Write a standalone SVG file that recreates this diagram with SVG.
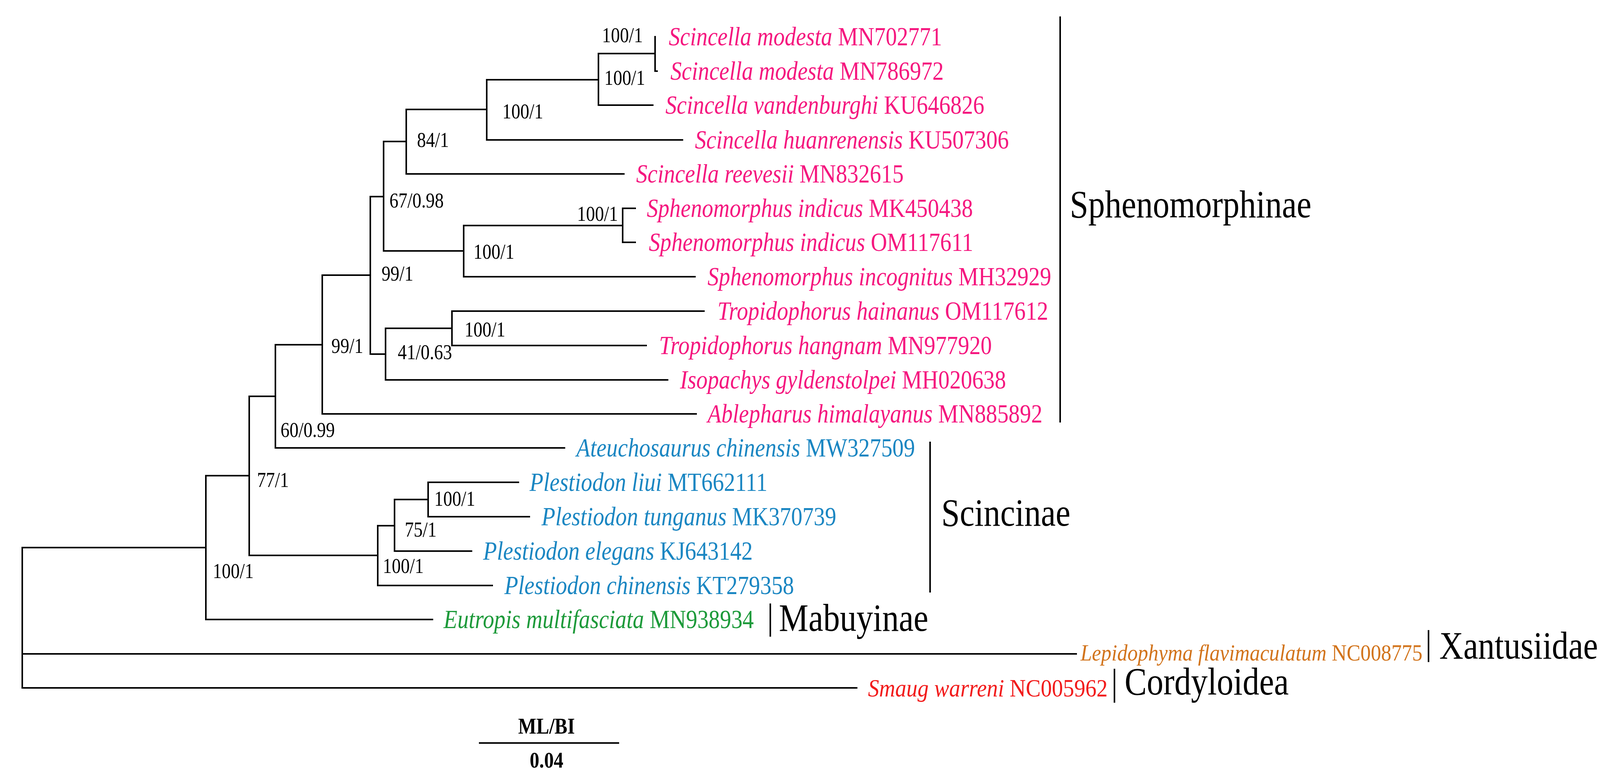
<svg xmlns="http://www.w3.org/2000/svg" width="4114" height="1988" viewBox="0 0 4114 1988">
<style>
.e{fill:none;stroke:#000;stroke-width:4;stroke-linecap:square}
text{font-family:"Liberation Serif","Times New Roman",serif}
.t{font-size:68px}
.s{font-size:54px;fill:#000}
.c{font-size:100px;fill:#000}
.pk{fill:#f5177f}.bl{fill:#1a86c2}.gr{fill:#1d9a3a}.or{fill:#d2741c}.rd{fill:#f21c1c}
.i{font-style:italic}
</style>
<rect width="4114" height="1988" fill="#fff"/>
<g id="connectors" class="e">
<path d="M1677 94V182M1677 182H1682M1532 137H1677M1532 137V269H1671M1246 204H1532M1246 204V358H1747M1040 280H1246M1040 280V445H1597M982 362H1040M982 362V642M1187 642H982M1187 577V708H1779M1594 533V620M1594 533H1626M1594 620H1626M1187 577H1594M948 503H982M948 503V906M987 906H948M987 840V972H1709M1157 840H987M1157 796V884M1157 796H1802M1157 884H1654M825 704H948M825 704V1059H1782M705 882H825M705 882V1146H1445M638 1014H705M638 1014V1421M967 1421H638M967 1345V1498H1260M1010 1345H967M1010 1278V1410H1207M1096 1278H1010M1096 1234V1322M1096 1234H1327M1096 1322H1355M527 1217H638M527 1217V1585H1107M57 1401H527M57 1401V1760H2193M57 1673H2755"/>
<path d="M2714 44V1079M2381 1132V1514M1972 1546V1627M3657 1614V1692M2853 1713V1796M1228 1901H1583"/>
</g>
<g id="tips" transform="scale(0.85,1)">
<text class="t pk" x="2014" y="116"><tspan class="i">Scincella modesta</tspan> MN702771</text>
<text class="t pk" x="2019" y="204"><tspan class="i">Scincella modesta</tspan> MN786972</text>
<text class="t pk" x="2004" y="291"><tspan class="i">Scincella vandenburghi</tspan> KU646826</text>
<text class="t pk" x="2093" y="380"><tspan class="i">Scincella huanrenensis</tspan> KU507306</text>
<text class="t pk" x="1916" y="467"><tspan class="i">Scincella reevesii</tspan> MN832615</text>
<text class="t pk" x="1948" y="555"><tspan class="i">Sphenomorphus indicus</tspan> MK450438</text>
<text class="t pk" x="1954" y="642"><tspan class="i">Sphenomorphus indicus</tspan> OM117611</text>
<text class="t pk" x="2131" y="730"><tspan class="i">Sphenomorphus incognitus</tspan> MH32929</text>
<text class="t pk" x="2161" y="818"><tspan class="i">Tropidophorus hainanus</tspan> OM117612</text>
<text class="t pk" x="1985" y="906"><tspan class="i">Tropidophorus hangnam</tspan> MN977920</text>
<text class="t pk" x="2048" y="994"><tspan class="i">Isopachys gyldenstolpei</tspan> MH020638</text>
<text class="t pk" x="2131" y="1081"><tspan class="i">Ablepharus himalayanus</tspan> MN885892</text>
<text class="t bl" x="1736" y="1168"><tspan class="i">Ateuchosaurus chinensis</tspan> MW327509</text>
<text class="t bl" x="1595" y="1256"><tspan class="i">Plestiodon liui</tspan> MT662111</text>
<text class="t bl" x="1631" y="1344"><tspan class="i">Plestiodon tunganus</tspan> MK370739</text>
<text class="t bl" x="1455" y="1432"><tspan class="i">Plestiodon elegans</tspan> KJ643142</text>
<text class="t bl" x="1519" y="1520"><tspan class="i">Plestiodon chinensis</tspan> KT279358</text>
<text class="t gr" x="1336" y="1607"><tspan class="i">Eutropis multifasciata</tspan> MN938934</text>
<text class="or" style="font-size:60px" x="3254" y="1690" textLength="1030" lengthAdjust="spacingAndGlyphs"><tspan class="i">Lepidophyma flavimaculatum</tspan> NC008775</text>
<text class="rd" style="font-size:64px" x="2614" y="1782" textLength="722" lengthAdjust="spacingAndGlyphs"><tspan class="i">Smaug warreni</tspan> NC005962</text>
</g>
<g id="clades" transform="scale(0.85,1)">
<text class="c" x="3222" y="556">Sphenomorphinae</text>
<text class="c" x="2835" y="1345">Scincinae</text>
<text class="c" x="2346" y="1614">Mabuyinae</text>
<text class="c" x="4335" y="1685">Xantusiidae</text>
<text class="c" x="3387" y="1777">Cordyloidea</text>
</g>
<g id="support" transform="scale(0.85,1)">
<text class="s" x="1813" y="108">100/1</text>
<text class="s" x="1820" y="217">100/1</text>
<text class="s" x="1513" y="303">100/1</text>
<text class="s" x="1256" y="376">84/1</text>
<text class="s" x="1173" y="531">67/0.98</text>
<text class="s" x="1738" y="565">100/1</text>
<text class="s" x="1426" y="662">100/1</text>
<text class="s" x="1149" y="718">99/1</text>
<text class="s" x="1399" y="861">100/1</text>
<text class="s" x="998" y="903">99/1</text>
<text class="s" x="1198" y="919">41/0.63</text>
<text class="s" x="845" y="1118">60/0.99</text>
<text class="s" x="774" y="1246">77/1</text>
<text class="s" x="1308" y="1294">100/1</text>
<text class="s" x="1219" y="1373">75/1</text>
<text class="s" x="1153" y="1466">100/1</text>
<text class="s" x="641" y="1479">100/1</text>
</g>
<g id="scalebar" transform="scale(0.85,1)" style="font-weight:bold;font-size:58px" text-anchor="middle">
<text x="1646" y="1877">ML/BI</text>
<text x="1646" y="1964">0.04</text>
</g>
</svg>
